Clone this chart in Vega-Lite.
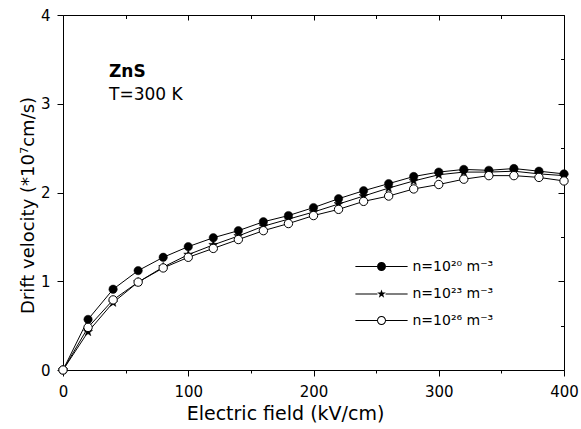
{
  "$schema": "https://vega.github.io/schema/vega-lite/v6.json",
  "width": 501,
  "height": 355,
  "autosize": {"type": "none"},
  "padding": {"left": 63, "top": 15, "right": 17, "bottom": 59},
  "background": "white",
  "config": {
    "view": {"stroke": null},
    "font": "DejaVu Sans",
    "axis": {"grid": false, "domainColor": "black", "tickColor": "black", "labelColor": "black", "titleColor": "black", "labelFont": "DejaVu Sans", "titleFont": "DejaVu Sans", "labelFontSize": 15, "titleFontSize": 18, "titleFontWeight": "normal", "domainWidth": 1, "tickWidth": 1, "labelFlush": false}
  },
  "title": {"text": "ZnS", "subtitle": "T=300 K", "anchor": "start", "frame": "group", "orient": "top", "offset": 0, "dx": 46, "dy": 96, "font": "DejaVu Sans", "fontSize": 17, "fontWeight": "bold", "color": "black", "subtitleFont": "DejaVu Sans", "subtitleFontSize": 17, "subtitleColor": "black", "subtitlePadding": 6},
  "datasets": {
    "drift": [
      {"E": 0, "v": 0, "n": "20"}, {"E": 20, "v": 0.57, "n": "20"}, {"E": 40, "v": 0.91, "n": "20"}, {"E": 60, "v": 1.12, "n": "20"}, {"E": 80, "v": 1.27, "n": "20"}, {"E": 100, "v": 1.39, "n": "20"}, {"E": 120, "v": 1.49, "n": "20"}, {"E": 140, "v": 1.57, "n": "20"}, {"E": 160, "v": 1.67, "n": "20"}, {"E": 180, "v": 1.74, "n": "20"}, {"E": 200, "v": 1.83, "n": "20"}, {"E": 220, "v": 1.93, "n": "20"}, {"E": 240, "v": 2.02, "n": "20"}, {"E": 260, "v": 2.10, "n": "20"}, {"E": 280, "v": 2.18, "n": "20"}, {"E": 300, "v": 2.23, "n": "20"}, {"E": 320, "v": 2.26, "n": "20"}, {"E": 340, "v": 2.25, "n": "20"}, {"E": 360, "v": 2.27, "n": "20"}, {"E": 380, "v": 2.24, "n": "20"}, {"E": 400, "v": 2.21, "n": "20"},
      {"E": 0, "v": 0, "n": "23"}, {"E": 20, "v": 0.43, "n": "23"}, {"E": 40, "v": 0.76, "n": "23"}, {"E": 60, "v": 0.99, "n": "23"}, {"E": 80, "v": 1.16, "n": "23"}, {"E": 100, "v": 1.30, "n": "23"}, {"E": 120, "v": 1.41, "n": "23"}, {"E": 140, "v": 1.51, "n": "23"}, {"E": 160, "v": 1.62, "n": "23"}, {"E": 180, "v": 1.70, "n": "23"}, {"E": 200, "v": 1.78, "n": "23"}, {"E": 220, "v": 1.87, "n": "23"}, {"E": 240, "v": 1.96, "n": "23"}, {"E": 260, "v": 2.05, "n": "23"}, {"E": 280, "v": 2.13, "n": "23"}, {"E": 300, "v": 2.20, "n": "23"}, {"E": 320, "v": 2.23, "n": "23"}, {"E": 340, "v": 2.23, "n": "23"}, {"E": 360, "v": 2.24, "n": "23"}, {"E": 380, "v": 2.21, "n": "23"}, {"E": 400, "v": 2.19, "n": "23"},
      {"E": 0, "v": 0, "n": "26"}, {"E": 20, "v": 0.48, "n": "26"}, {"E": 40, "v": 0.79, "n": "26"}, {"E": 60, "v": 0.99, "n": "26"}, {"E": 80, "v": 1.15, "n": "26"}, {"E": 100, "v": 1.27, "n": "26"}, {"E": 120, "v": 1.37, "n": "26"}, {"E": 140, "v": 1.47, "n": "26"}, {"E": 160, "v": 1.57, "n": "26"}, {"E": 180, "v": 1.65, "n": "26"}, {"E": 200, "v": 1.74, "n": "26"}, {"E": 220, "v": 1.81, "n": "26"}, {"E": 240, "v": 1.90, "n": "26"}, {"E": 260, "v": 1.96, "n": "26"}, {"E": 280, "v": 2.04, "n": "26"}, {"E": 300, "v": 2.09, "n": "26"}, {"E": 320, "v": 2.15, "n": "26"}, {"E": 340, "v": 2.19, "n": "26"}, {"E": 360, "v": 2.19, "n": "26"}, {"E": 380, "v": 2.17, "n": "26"}, {"E": 400, "v": 2.13, "n": "26"}
    ]
  },
  "data": {"name": "drift"},
  "resolve": {"axis": {"x": "independent", "y": "independent"}},
  "layer": [
    {
      "layer": [
        {
          "mark": {"type": "line", "stroke": "black", "strokeWidth": 1},
          "encoding": {
            "x": {"field": "E", "type": "quantitative", "scale": {"domain": [0, 400], "nice": false},
              "axis": {"orient": "bottom", "values": [0, 50, 100, 150, 200, 250, 300, 350, 400], "format": "d", "labelExpr": "datum.value % 100 === 0 ? datum.label : ''", "tickSize": {"condition": {"test": "datum.value % 100 === 0", "value": 6}, "value": 3}, "labelPadding": 8, "title": "Electric field (kV/cm)", "titleFontSize": 19, "titleX": 222, "titlePadding": 5}},
            "y": {"field": "v", "type": "quantitative", "scale": {"domain": [0, 4], "nice": false},
              "axis": {"orient": "left", "values": [0, 0.5, 1, 1.5, 2, 2.5, 3, 3.5, 4], "format": "d", "labelExpr": "datum.value % 1 === 0 ? datum.label : ''", "tickSize": {"condition": {"test": "datum.value % 1 === 0", "value": 6}, "value": 3.5}, "labelPadding": 7, "title": "Drift velocity (*10⁷cm/s)", "titleY": 190, "titlePadding": 3}},
            "detail": {"field": "n", "type": "nominal"}
          }
        },
        {
          "transform": [{"filter": "datum.n === '20'"}],
          "mark": {"type": "point", "shape": "circle", "filled": true, "fill": "black", "stroke": "black", "strokeWidth": 0.5, "size": 70, "opacity": 1},
          "encoding": {"x": {"field": "E", "type": "quantitative"}, "y": {"field": "v", "type": "quantitative"}}
        },
        {
          "transform": [{"filter": "datum.n === '23'"}],
          "mark": {"type": "point", "shape": "M0,-1L0.235,-0.324L0.951,-0.309L0.38,0.124L0.588,0.809L0,0.4L-0.588,0.809L-0.38,0.124L-0.951,-0.309L-0.235,-0.324Z", "filled": true, "fill": "black", "stroke": "black", "strokeWidth": 0.5, "size": 90, "opacity": 1},
          "encoding": {"x": {"field": "E", "type": "quantitative"}, "y": {"field": "v", "type": "quantitative"}}
        },
        {
          "transform": [{"filter": "datum.n === '26'"}],
          "mark": {"type": "point", "shape": "circle", "filled": true, "fill": "white", "stroke": "black", "strokeWidth": 1, "size": 70, "opacity": 1},
          "encoding": {"x": {"field": "E", "type": "quantitative"}, "y": {"field": "v", "type": "quantitative"}}
        },
        {
          "transform": [{"filter": "datum.E < 0"}],
          "mark": {"type": "point", "filled": true, "opacity": 1},
          "encoding": {
            "x": {"field": "E", "type": "quantitative"},
            "y": {"field": "v", "type": "quantitative"},
            "shape": {"field": "n", "type": "nominal",
              "scale": {"domain": ["20", "23", "26"], "range": [
                "M-5.8,-0.11L-1,-0.11L-1,0.11L-5.8,0.11ZM1,-0.11L5.8,-0.11L5.8,0.11L1,0.11ZM-1,0A1,1,0,1,1,1,0A1,1,0,1,1,-1,0Z",
                "M-5.8,-0.11L-0.9,-0.11L-0.9,0.11L-5.8,0.11ZM0.9,-0.11L5.8,-0.11L5.8,0.11L0.9,0.11ZM0,-1L0.235,-0.324L0.951,-0.309L0.38,0.124L0.588,0.809L0,0.4L-0.588,0.809L-0.38,0.124L-0.951,-0.309L-0.235,-0.324Z",
                "M-5.8,-0.11L-1,-0.11L-1,0.11L-5.8,0.11ZM1,-0.11L5.8,-0.11L5.8,0.11L1,0.11ZM-1,0A1,1,0,1,1,1,0A1,1,0,1,1,-1,0ZM-0.78,0A0.78,0.78,0,1,0,0.78,0A0.78,0.78,0,1,0,-0.78,0Z"]},
              "legend": {"orient": "none", "legendX": 311.5, "legendY": 244.5, "title": null, "symbolSize": 81, "labelFont": "DejaVu Sans", "labelFontSize": 14, "labelColor": "black", "labelOffset": 24, "rowPadding": 11.5, "labelExpr": "'n=10' + (datum.value == '20' ? '²⁰' : datum.value == '23' ? '²³' : '²⁶') + ' m⁻³'"}},
            "fill": {"field": "n", "type": "nominal",
              "scale": {"domain": ["20", "23", "26"], "range": ["black", "black", "black"]},
              "legend": {"orient": "none", "legendX": 311.5, "legendY": 244.5, "title": null, "symbolSize": 81, "labelFont": "DejaVu Sans", "labelFontSize": 14, "labelColor": "black", "labelOffset": 24, "rowPadding": 11.5, "labelExpr": "'n=10' + (datum.value == '20' ? '²⁰' : datum.value == '23' ? '²³' : '²⁶') + ' m⁻³'"}}
          }
        }
      ]
    },
    {
      "mark": {"type": "point", "opacity": 0},
      "encoding": {
        "x": {"field": "E", "type": "quantitative",
          "axis": {"orient": "top", "values": [0, 50, 100, 150, 200, 250, 300, 350, 400], "labels": false, "title": null, "tickSize": {"condition": {"test": "datum.value % 100 === 0", "value": -5}, "value": -3.5}}},
        "y": {"field": "v", "type": "quantitative",
          "axis": {"orient": "right", "values": [0, 0.5, 1, 1.5, 2, 2.5, 3, 3.5, 4], "labels": false, "title": null, "tickSize": {"condition": {"test": "datum.value % 1 === 0", "value": -6}, "value": -3.5}}}
      }
    }
  ]
}
